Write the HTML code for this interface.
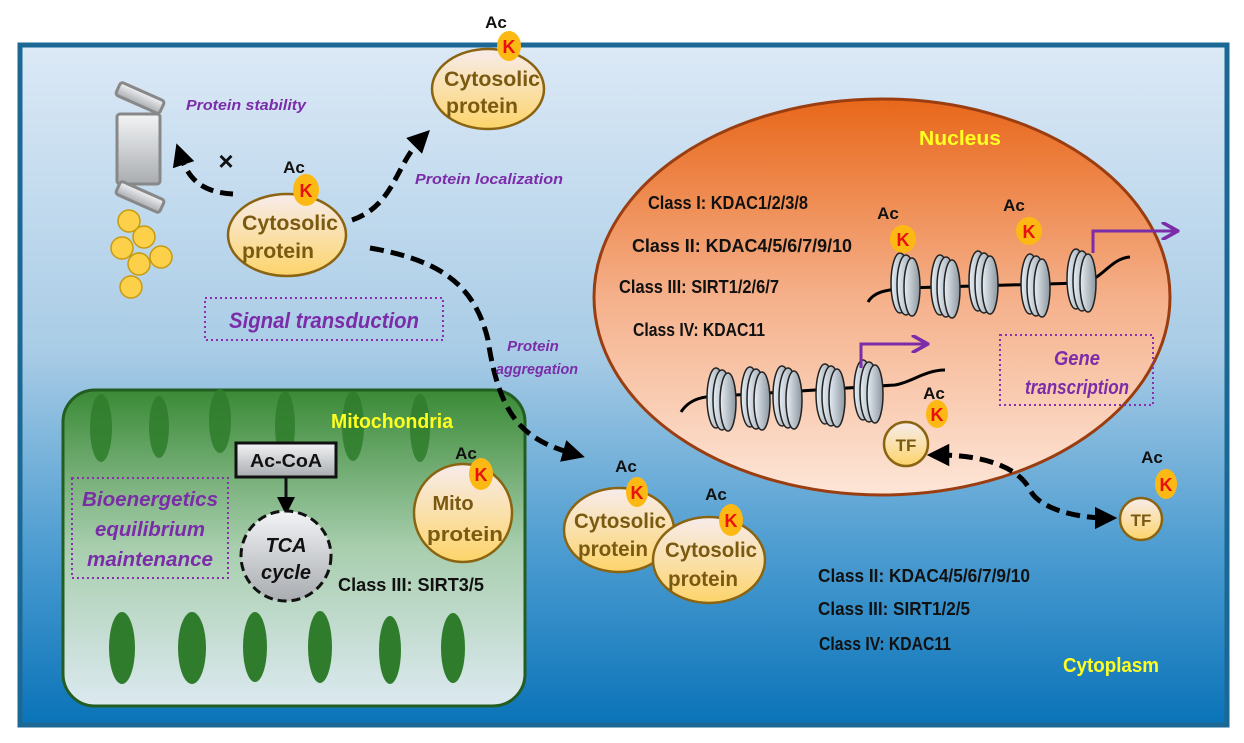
<!DOCTYPE html>
<html><head><meta charset="utf-8"><style>
html,body{margin:0;padding:0;background:#fff}
svg{display:block}
text{font-family:"Liberation Sans",sans-serif;font-weight:bold}
</style></head><body>
<svg width="1244" height="743" viewBox="0 0 1244 743" xmlns="http://www.w3.org/2000/svg">
<defs>
<linearGradient id="bg" x1="0" y1="0" x2="0" y2="1">
<stop offset="0" stop-color="#dce9f6"/><stop offset="0.45" stop-color="#a9cce6"/><stop offset="0.75" stop-color="#4a9bd0"/><stop offset="1" stop-color="#0a73b8"/></linearGradient>
<linearGradient id="nuc" x1="0" y1="0" x2="0" y2="1">
<stop offset="0" stop-color="#e8671a"/><stop offset="0.5" stop-color="#f5b08a"/><stop offset="1" stop-color="#fde6d8"/></linearGradient>
<linearGradient id="mito" x1="0" y1="0" x2="0" y2="1">
<stop offset="0" stop-color="#3a8a36"/><stop offset="0.5" stop-color="#a8ceae"/><stop offset="1" stop-color="#dce9f0"/></linearGradient>
<linearGradient id="prot" x1="0" y1="0" x2="0" y2="1">
<stop offset="0" stop-color="#f7ecec"/><stop offset="1" stop-color="#fdd46a"/></linearGradient>
<linearGradient id="nucl" x1="0" y1="0" x2="1" y2="0">
<stop offset="0" stop-color="#e6eef6"/><stop offset="1" stop-color="#8d959e"/></linearGradient>
<linearGradient id="gray" x1="0" y1="0" x2="0" y2="1">
<stop offset="0" stop-color="#f2f4f6"/><stop offset="1" stop-color="#a9acb0"/></linearGradient>
<marker id="ah" viewBox="0 0 10 10" refX="5" refY="5" markerWidth="4.5" markerHeight="4.5" orient="auto"><path d="M0,0 L10,5 L0,10 z" fill="#000"/></marker>
<marker id="ahs" viewBox="0 0 10 10" refX="5" refY="5" markerWidth="4.5" markerHeight="4.5" orient="auto-start-reverse"><path d="M0,0 L10,5 L0,10 z" fill="#000"/></marker>
<marker id="ah2" viewBox="0 0 10 10" refX="5" refY="5" markerWidth="6" markerHeight="6" orient="auto"><path d="M0,0 L10,5 L0,10 z" fill="#000"/></marker>
<marker id="pa" viewBox="0 0 10 10" refX="8" refY="5" markerWidth="6" markerHeight="6" orient="auto"><path d="M0,0 L9,5 L0,10" fill="none" stroke="#7b2ca8" stroke-width="2"/></marker>
<g id="nsome"><ellipse cx="0" cy="0" rx="9" ry="30" fill="url(#nucl)" stroke="#222" stroke-width="1.5"/><ellipse cx="6" cy="2" rx="9" ry="30" fill="url(#nucl)" stroke="#222" stroke-width="1.5"/><ellipse cx="12" cy="4" rx="8" ry="29" fill="url(#nucl)" stroke="#222" stroke-width="1.5"/></g>
</defs>
<rect x="20" y="45" width="1207" height="680" fill="url(#bg)" stroke="#1b6895" stroke-width="5"/>

<!-- nucleus -->
<ellipse cx="882" cy="297" rx="288" ry="198" fill="url(#nuc)" stroke="#9a3e12" stroke-width="3"/>
<text x="960" y="145" font-size="20" fill="#ffff20" text-anchor="middle" textLength="82" lengthAdjust="spacingAndGlyphs">Nucleus</text>
<g font-size="18" fill="#111" lengthAdjust="spacingAndGlyphs">
<text x="648" y="209" textLength="160" lengthAdjust="spacingAndGlyphs">Class I: KDAC1/2/3/8</text>
<text x="632" y="252" textLength="220" lengthAdjust="spacingAndGlyphs">Class II: KDAC4/5/6/7/9/10</text>
<text x="619" y="293" textLength="160" lengthAdjust="spacingAndGlyphs">Class III: SIRT1/2/6/7</text>
<text x="633" y="336" textLength="132" lengthAdjust="spacingAndGlyphs">Class IV: KDAC11</text>
</g>
<path d="M868,302 C875,290 890,290 905,288 L1080,283 C1100,283 1110,258 1130,257" fill="none" stroke="#000" stroke-width="3"/>
<use href="#nsome" x="900" y="283"/><use href="#nsome" x="940" y="285"/><use href="#nsome" x="978" y="281"/><use href="#nsome" x="1030" y="284"/><use href="#nsome" x="1076" y="279"/>
<path d="M1093,253 V231 H1176" fill="none" stroke="#7b2ca8" stroke-width="3" marker-end="url(#pa)"/>
<ellipse cx="903" cy="239" rx="13" ry="14" fill="#fdb913"/><text x="903" y="246" font-size="18" fill="#e81010" text-anchor="middle">K</text><text x="888" y="219" font-size="17" fill="#111" text-anchor="middle">Ac</text>
<ellipse cx="1029" cy="231" rx="13" ry="14" fill="#fdb913"/><text x="1029" y="238" font-size="18" fill="#e81010" text-anchor="middle">K</text><text x="1014" y="211" font-size="17" fill="#111" text-anchor="middle">Ac</text>

<path d="M681,412 C690,398 705,396 720,396 L895,385 C910,383 925,370 945,370" fill="none" stroke="#000" stroke-width="3"/>
<use href="#nsome" x="716" y="398"/><use href="#nsome" x="750" y="397"/><use href="#nsome" x="782" y="396"/><use href="#nsome" x="825" y="394"/><use href="#nsome" x="863" y="390"/>
<path d="M861,368 V344 H926" fill="none" stroke="#7b2ca8" stroke-width="3" marker-end="url(#pa)"/>
<rect x="1000" y="335" width="153" height="70" fill="none" stroke="#8a2fb0" stroke-width="2" stroke-dasharray="2,3"/>
<text x="1077" y="365" font-size="20" fill="#7b2ca8" text-anchor="middle" font-style="italic" textLength="46" lengthAdjust="spacingAndGlyphs">Gene</text>
<text x="1077" y="394" font-size="20" fill="#7b2ca8" text-anchor="middle" font-style="italic" textLength="104" lengthAdjust="spacingAndGlyphs">transcription</text>

<!-- TF inside -->
<circle cx="906" cy="444" r="22" fill="url(#prot)" stroke="#8a6410" stroke-width="2.5"/><text x="906" y="451" font-size="17" fill="#7a5a10" text-anchor="middle">TF</text>
<ellipse cx="937" cy="414" rx="11" ry="14" fill="#fdb913"/><text x="937" y="421" font-size="18" fill="#e81010" text-anchor="middle">K</text><text x="934" y="399" font-size="17" fill="#111" text-anchor="middle">Ac</text>
<!-- TF outside -->
<circle cx="1141" cy="519" r="21" fill="url(#prot)" stroke="#8a6410" stroke-width="2.5"/><text x="1141" y="526" font-size="17" fill="#7a5a10" text-anchor="middle">TF</text>
<ellipse cx="1166" cy="484" rx="11" ry="15" fill="#fdb913"/><text x="1166" y="491" font-size="18" fill="#e81010" text-anchor="middle">K</text><text x="1152" y="463" font-size="17" fill="#111" text-anchor="middle">Ac</text>
<path d="M938,455 C990,455 1020,470 1030,490 C1040,510 1080,518 1106,518" fill="none" stroke="#000" stroke-width="5" stroke-dasharray="14,7" marker-start="url(#ahs)" marker-end="url(#ah)"/>

<!-- mitochondria -->
<rect x="63" y="390" width="462" height="316" rx="32" fill="url(#mito)" stroke="#235d22" stroke-width="3"/>
<g fill="#2f7d2c" opacity="0.85">
<ellipse cx="101" cy="428" rx="11" ry="34"/><ellipse cx="159" cy="427" rx="10" ry="31"/><ellipse cx="220" cy="421" rx="11" ry="32"/><ellipse cx="285" cy="426" rx="10" ry="35"/><ellipse cx="353" cy="426" rx="11" ry="35"/><ellipse cx="420" cy="428" rx="10" ry="34"/>
</g>
<g fill="#2f7d2c">
<ellipse cx="122" cy="648" rx="13" ry="36"/><ellipse cx="192" cy="648" rx="14" ry="36"/><ellipse cx="255" cy="647" rx="12" ry="35"/><ellipse cx="320" cy="647" rx="12" ry="36"/><ellipse cx="390" cy="650" rx="11" ry="34"/><ellipse cx="453" cy="648" rx="12" ry="35"/>
</g>
<text x="392" y="428" font-size="20" fill="#ffff20" text-anchor="middle" textLength="122" lengthAdjust="spacingAndGlyphs">Mitochondria</text>
<rect x="236" y="443" width="100" height="34" fill="url(#gray)" stroke="#111" stroke-width="3"/>
<text x="286" y="467" font-size="18" fill="#111" text-anchor="middle" textLength="72" lengthAdjust="spacingAndGlyphs">Ac-CoA</text>
<line x1="286" y1="477" x2="286" y2="506" stroke="#111" stroke-width="3" marker-end="url(#ah2)"/>
<circle cx="286" cy="556" r="45" fill="url(#gray)" stroke="#111" stroke-width="3" stroke-dasharray="9,5"/>
<text x="286" y="552" font-size="20" fill="#111" text-anchor="middle" font-style="italic">TCA</text>
<text x="286" y="579" font-size="20" fill="#111" text-anchor="middle" font-style="italic">cycle</text>
<text x="338" y="591" font-size="18" fill="#111" textLength="146" lengthAdjust="spacingAndGlyphs">Class III: SIRT3/5</text>
<rect x="72" y="478" width="156" height="100" fill="none" stroke="#8a2fb0" stroke-width="2" stroke-dasharray="2,3"/>
<g font-size="20" fill="#7b2ca8" text-anchor="middle" font-style="italic">
<text x="150" y="506" textLength="136" lengthAdjust="spacingAndGlyphs">Bioenergetics</text><text x="150" y="536" textLength="110" lengthAdjust="spacingAndGlyphs">equilibrium</text><text x="150" y="566" textLength="126" lengthAdjust="spacingAndGlyphs">maintenance</text></g>
<ellipse cx="463" cy="513" rx="49" ry="49" fill="url(#prot)" stroke="#8a6410" stroke-width="2.5"/>
<text x="453" y="510" font-size="20" fill="#7a5a10" text-anchor="middle">Mito</text><text x="465" y="541" font-size="20" fill="#7a5a10" text-anchor="middle" textLength="76" lengthAdjust="spacingAndGlyphs">protein</text>
<ellipse cx="481" cy="474" rx="12" ry="16" fill="#fdb913"/><text x="481" y="481" font-size="18" fill="#e81010" text-anchor="middle">K</text><text x="466" y="459" font-size="17" fill="#111" text-anchor="middle">Ac</text>

<!-- proteasome -->
<g fill="url(#gray)" stroke="#888" stroke-width="3">
<rect x="117" y="114" width="43" height="70" rx="3"/>
<rect x="-24" y="-7" width="48" height="14" rx="3" transform="translate(140,98) rotate(24)"/>
<rect x="-24" y="-7" width="48" height="14" rx="3" transform="translate(140,197) rotate(24)"/>
</g>
<g fill="#fdd04a" stroke="#c79a10" stroke-width="1.5">
<circle cx="129" cy="221" r="11"/><circle cx="144" cy="237" r="11"/><circle cx="122" cy="248" r="11"/><circle cx="139" cy="264" r="11"/><circle cx="161" cy="257" r="11"/><circle cx="131" cy="287" r="11"/></g>
<text x="186" y="110" font-size="15" fill="#7b2ca8" font-style="italic" textLength="120" lengthAdjust="spacingAndGlyphs">Protein stability</text>
<text x="226" y="170" font-size="26" fill="#111" font-weight="normal" text-anchor="middle">×</text>
<path d="M233,194 C200,192 188,178 180,154" fill="none" stroke="#000" stroke-width="5" stroke-dasharray="13,7" marker-end="url(#ah)"/>

<!-- middle cytosolic -->
<ellipse cx="287" cy="235" rx="59" ry="41" fill="url(#prot)" stroke="#8a6410" stroke-width="2.5"/>
<text x="290" y="230" font-size="21" fill="#7a5a10" text-anchor="middle" textLength="96" lengthAdjust="spacingAndGlyphs">Cytosolic</text><text x="278" y="258" font-size="21" fill="#7a5a10" text-anchor="middle" textLength="72" lengthAdjust="spacingAndGlyphs">protein</text>
<ellipse cx="306" cy="190" rx="13" ry="16" fill="#fdb913"/><text x="306" y="197" font-size="18" fill="#e81010" text-anchor="middle">K</text><text x="294" y="173" font-size="17" fill="#111" text-anchor="middle">Ac</text>
<path d="M352,220 C395,205 395,165 422,138" fill="none" stroke="#000" stroke-width="5" stroke-dasharray="13,7" marker-end="url(#ah)"/>
<text x="415" y="184" font-size="15" fill="#7b2ca8" font-style="italic" textLength="148" lengthAdjust="spacingAndGlyphs">Protein localization</text>
<rect x="205" y="298" width="238" height="42" fill="none" stroke="#8a2fb0" stroke-width="2" stroke-dasharray="2,3"/>
<text x="324" y="328" font-size="22" fill="#7b2ca8" text-anchor="middle" font-style="italic" textLength="190" lengthAdjust="spacingAndGlyphs">Signal transduction</text>

<!-- top cytosolic -->
<ellipse cx="488" cy="89" rx="56" ry="40" fill="url(#prot)" stroke="#8a6410" stroke-width="2.5"/>
<text x="492" y="86" font-size="21" fill="#7a5a10" text-anchor="middle" textLength="96" lengthAdjust="spacingAndGlyphs">Cytosolic</text><text x="482" y="113" font-size="21" fill="#7a5a10" text-anchor="middle" textLength="72" lengthAdjust="spacingAndGlyphs">protein</text>
<ellipse cx="509" cy="46" rx="12" ry="15" fill="#fdb913"/><text x="509" y="53" font-size="18" fill="#e81010" text-anchor="middle">K</text><text x="496" y="28" font-size="17" fill="#111" text-anchor="middle">Ac</text>

<!-- aggregation arrow -->
<path d="M370,248 C440,260 475,285 488,340 C500,420 525,440 574,454" fill="none" stroke="#000" stroke-width="5" stroke-dasharray="14,7" marker-end="url(#ah)"/>
<text x="533" y="351" font-size="15" fill="#7b2ca8" text-anchor="middle" font-style="italic">Protein</text>
<text x="537" y="374" font-size="15" fill="#7b2ca8" text-anchor="middle" font-style="italic" textLength="82" lengthAdjust="spacingAndGlyphs">aggregation</text>

<!-- pair -->
<ellipse cx="619" cy="530" rx="55" ry="42" fill="url(#prot)" stroke="#8a6410" stroke-width="2.5"/>
<text x="620" y="528" font-size="21" fill="#7a5a10" text-anchor="middle" textLength="92" lengthAdjust="spacingAndGlyphs">Cytosolic</text><text x="613" y="556" font-size="21" fill="#7a5a10" text-anchor="middle" textLength="70" lengthAdjust="spacingAndGlyphs">protein</text>
<ellipse cx="709" cy="560" rx="56" ry="43" fill="url(#prot)" stroke="#8a6410" stroke-width="2.5"/>
<text x="711" y="557" font-size="21" fill="#7a5a10" text-anchor="middle" textLength="92" lengthAdjust="spacingAndGlyphs">Cytosolic</text><text x="703" y="586" font-size="21" fill="#7a5a10" text-anchor="middle" textLength="70" lengthAdjust="spacingAndGlyphs">protein</text>
<ellipse cx="637" cy="492" rx="11" ry="15" fill="#fdb913"/><text x="637" y="499" font-size="18" fill="#e81010" text-anchor="middle">K</text><text x="626" y="472" font-size="17" fill="#111" text-anchor="middle">Ac</text>
<ellipse cx="731" cy="520" rx="12" ry="16" fill="#fdb913"/><text x="731" y="527" font-size="18" fill="#e81010" text-anchor="middle">K</text><text x="716" y="500" font-size="17" fill="#111" text-anchor="middle">Ac</text>

<g font-size="18" fill="#111">
<text x="818" y="582" textLength="212" lengthAdjust="spacingAndGlyphs">Class II: KDAC4/5/6/7/9/10</text>
<text x="818" y="615" textLength="152" lengthAdjust="spacingAndGlyphs">Class III: SIRT1/2/5</text>
<text x="819" y="650" textLength="132" lengthAdjust="spacingAndGlyphs">Class IV: KDAC11</text>
</g>
<text x="1063" y="672" font-size="20" fill="#ffff20" textLength="96" lengthAdjust="spacingAndGlyphs">Cytoplasm</text>
</svg>
</body></html>
